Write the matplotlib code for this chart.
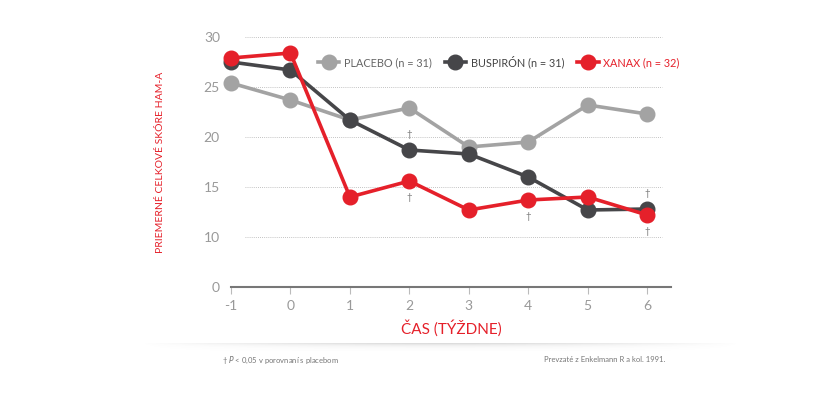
import numpy as np
import matplotlib.pyplot as plt

plt.rcParams['font.family'] = ['Lato', 'DejaVu Sans']

weeks = [-1, 0, 1, 2, 3, 4, 5, 6]
placebo = [25.4, 23.7, 21.7, 22.9, 19.0, 19.5, 23.2, 22.3]
buspiron = [27.5, 26.7, 21.7, 18.7, 18.3, 16.0, 12.7, 12.8]
xanax = [27.9, 28.4, 14.0, 15.6, 12.7, 13.7, 14.0, 12.2]

series_names = ['PLACEBO (n = 31)', 'BUSPIRÓN (n = 31)', 'XANAX (n = 32)']
colors = ['#a3a3a3', '#464649', '#e5202a']

# y axis is broken: bottom tick shows 0
ytick_vals = [5, 10, 15, 20, 25, 30]
ytick_labels = ['0', '10', '15', '20', '25', '30']

# significance marks: (week, series index, above/below)
daggers = [(2, 1, 'above'), (2, 2, 'below'), (4, 2, 'below'),
           (6, 1, 'above'), (6, 2, 'below')]

fig = plt.figure(figsize=(8.21, 3.97), dpi=100)
ax = fig.add_axes([231/821, 110/397, 440/821, 250/397])
ax.set_xlim(-1, 6.4)
ax.set_ylim(5, 30)

for v in ytick_vals[1:]:
    ax.axhline(v, xmin=0.032, xmax=0.98, color='#b0b0b0', lw=0.6,
               ls=(0, (1, 1.5)), zorder=1)

all_series = [placebo, buspiron, xanax]
for vals, name, c in zip(all_series, series_names, colors):
    ax.plot(weeks, vals, color=c, lw=2.6, marker='o', markersize=10.5,
            label=name, clip_on=False, zorder=3)

for wk, si, pos in daggers:
    val = all_series[si][weeks.index(wk)]
    dy = 11 if pos == 'above' else -12
    ax.annotate('†', (wk, val), xytext=(0, dy), textcoords='offset points',
                ha='center', va='center', fontsize=7, color='#777777')

for s in ['top', 'right', 'left']:
    ax.spines[s].set_visible(False)
ax.spines['bottom'].set_color('#777777')
ax.spines['bottom'].set_linewidth(1.5)

ax.set_xticks(weeks)
ax.set_xticklabels([str(w) for w in weeks])
ax.set_yticks(ytick_vals)
ax.set_yticklabels(ytick_labels)
ax.tick_params(axis='x', colors='#bbbbbb', labelcolor='#999999', length=5,
               width=0.8, labelsize=10, pad=4)
ax.tick_params(axis='y', length=0, labelcolor='#999999', labelsize=10, pad=8)

ax.set_xlabel('ČAS (TÝŽDNE)', color='#e5202a', fontsize=11, labelpad=6)
ax.set_ylabel('PRIEMERNÉ CELKOVÉ SKÓRE HAM-A', color='#e5202a', fontsize=7.5,
              labelpad=28)

leg = ax.legend(loc='upper left', bbox_to_anchor=(0.175, 0.965), ncol=3,
                frameon=False, fontsize=7.8, handlelength=2.0,
                columnspacing=1.2, handletextpad=0.4,
                labelcolor=['#666666', '#444444', '#e5202a'])

# shadow band under the chart
sh = fig.add_axes([140/821, 46/397, 600/821, 8/397])
xx = np.linspace(-1, 1, 300)
yy = np.linspace(0, 1, 20)
alpha = np.outer(np.exp(-yy * 3.5), 1 - np.abs(xx) ** 1.5) * 0.35
img = np.zeros((20, 300, 4))
img[..., :3] = 0.35
img[..., 3] = alpha
sh.imshow(img, aspect='auto', extent=(0, 1, 0, 1))
sh.axis('off')

fig.text(222/821, 1 - 360/397, '† $P$ < 0,05 v porovnaní s placebom',
         fontsize=5.5, color='#777777', va='center', ha='left')
fig.text(665/821, 1 - 360/397, 'Prevzaté z Enkelmann R a kol. 1991.',
         fontsize=5.5, color='#777777', va='center', ha='right')

fig.savefig('out.png', dpi=100)
